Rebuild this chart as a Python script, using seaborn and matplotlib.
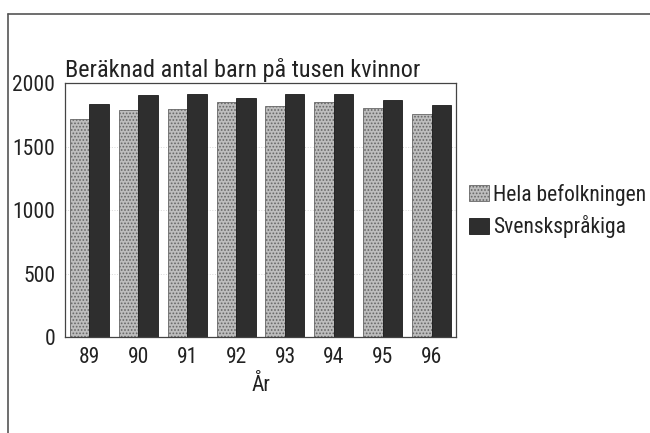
import numpy as np
import pandas as pd
import matplotlib
matplotlib.use('Agg')
import matplotlib.pyplot as plt
from matplotlib.lines import Line2D
import seaborn as sns

# data
years = ['89', '90', '91', '92', '93', '94', '95', '96']
hela = [1717, 1787, 1795, 1848, 1821, 1848, 1803, 1759]
svensk = [1835, 1903, 1916, 1882, 1911, 1916, 1863, 1827]
series = ['Hela befolkningen', 'Svenskspråkiga']
yticks = [0, 500, 1000, 1500, 2000]

sns.set_theme(style='white')
plt.rcParams['font.family'] = ['Roboto Condensed', 'Liberation Sans Narrow', 'DejaVu Sans']
plt.rcParams['font.stretch'] = 'condensed'
plt.rcParams['hatch.linewidth'] = 0.8

df = pd.DataFrame({
    'year': years * 2,
    'value': hela + svensk,
    'series': [series[0]] * len(years) + [series[1]] * len(years),
})

fig = plt.figure(figsize=(6.5, 4.33), dpi=100)
ax = fig.add_axes([65 / 650, 1 - 337 / 433, (456 - 65) / 650, (337 - 83) / 433])

sns.barplot(data=df, x='year', y='value', hue='series', order=years,
            hue_order=series, palette=['#bdbdbd', '#2e2e2e'],
            width=0.8, legend=False, ax=ax, saturation=1)

for p in ax.containers[0]:
    p.set_hatch('.....')
    p.set_edgecolor('#666666')
    p.set_linewidth(0.6)
for p in ax.containers[1]:
    p.set_edgecolor('#1c1c1c')
    p.set_linewidth(0.6)

ax.set_xlim(-0.5, len(years) - 0.5)
ax.set_ylim(0, 2000)
ax.set_yticks(yticks)
ax.set_yticklabels([str(v) for v in yticks])
ax.tick_params(axis='both', length=0, labelsize=15.5, colors='#222222')
ax.tick_params(axis='y', pad=7)
ax.tick_params(axis='x', pad=7)
ax.yaxis.grid(True, linestyle=':', color='#d8d8d8', linewidth=0.7)
ax.set_axisbelow(True)
for s in ax.spines.values():
    s.set_color('#444444')
    s.set_linewidth(0.9)

ax.set_xlabel('År', fontsize=15.5, color='#222222', labelpad=5)
ax.set_ylabel('')
ax.set_title('Beräknad antal barn på tusen kvinnor', loc='left', fontsize=17.5,
             color='#222222', pad=4)

ax.legend(handles=[ax.containers[0], ax.containers[1]], labels=series,
          loc='center left', bbox_to_anchor=(469 / 650, 1 - 211 / 433),
          bbox_transform=fig.transFigure, frameon=False, fontsize=15.5,
          handlelength=0.95, handleheight=0.75, handletextpad=0.15,
          labelspacing=0.45, borderpad=0, borderaxespad=0,
          labelcolor='#222222')

# scanned page frame (top and left edges only)
fig.add_artist(Line2D([8 / 650, 8 / 650], [0, 1 - 14 / 433], transform=fig.transFigure,
                      color='#555555', linewidth=1.2))
fig.add_artist(Line2D([8 / 650, 1], [1 - 14 / 433, 1 - 14 / 433], transform=fig.transFigure,
                      color='#555555', linewidth=1.2))

fig.savefig('out.png', dpi=100)
